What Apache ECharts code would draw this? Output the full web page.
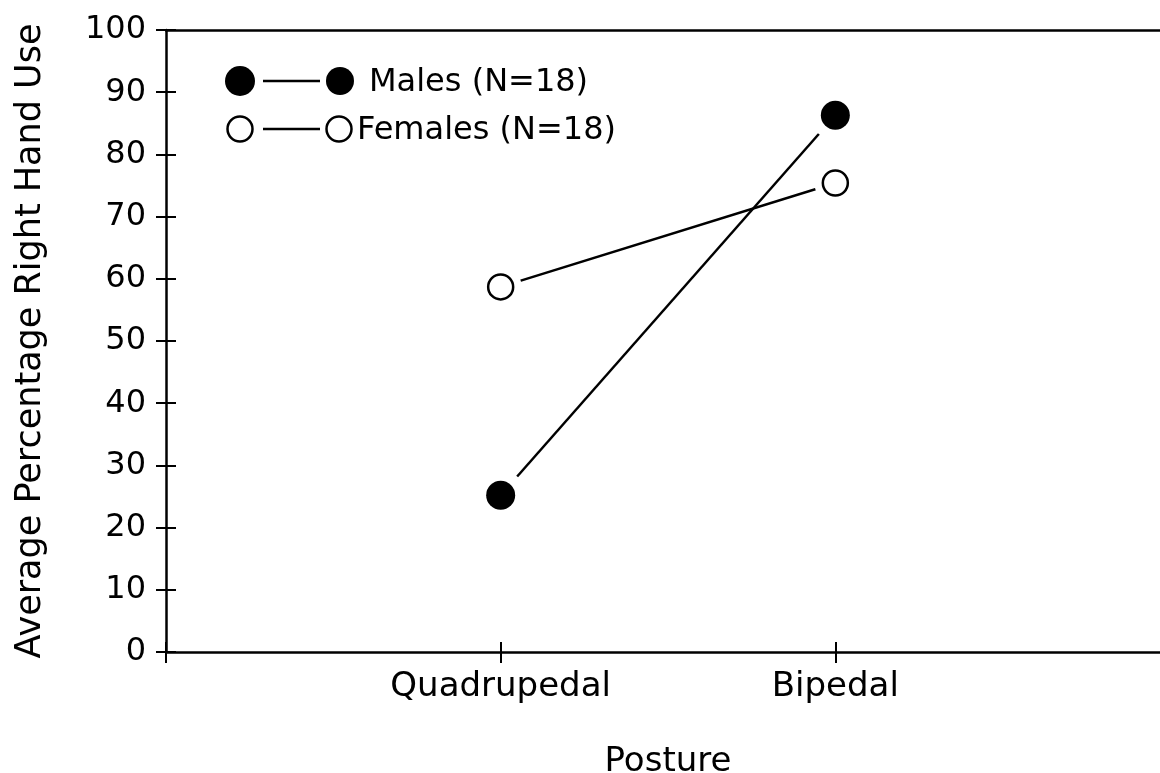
<!DOCTYPE html>
<html>
<head>
<meta charset="utf-8">
<script src="https://cdn.jsdelivr.net/npm/echarts@6/dist/echarts.min.js"></script>
<style>
  html, body { margin: 0; padding: 0; background: #fff; }
  #chart { width: 1160px; height: 773px; }
</style>
</head>
<body>
<div id="chart"></div>
<script>
// posture categories and average % right hand use per group
var postures = ['Quadrupedal', 'Bipedal'];
var males = [25.2, 86.3];
var females = [58.7, 75.4];
var yTicks = { min: 0, max: 100, step: 10 };

(function () {
  var font = 'DejaVu Sans';
  var ink = '#000';

  function pts(vals) {
    return vals.map(function (v, i) { return [i + 1, v]; });
  }

  var chart = echarts.init(document.getElementById('chart'), null, { renderer: 'canvas' });

  var axisLine = { show: true, lineStyle: { color: ink, width: 2.5 } };

  chart.setOption({
    animation: false,
    backgroundColor: '#fff',
    grid: { left: 166, right: -10, top: 30, bottom: 121, containLabel: false, outerBoundsMode: 'none' },
    xAxis: [
      {
        type: 'value', position: 'bottom', min: 0, max: 3, interval: 1,
        axisLine: axisLine,
        axisTick: { show: true, inside: false, length: 11, lineStyle: { color: ink, width: 2 } },
        axisLabel: {
          color: ink, fontFamily: font, fontSize: 34, margin: 18,
          formatter: function (v) { return postures[v - 1] || ''; }
        },
        splitLine: { show: false },
        name: 'Posture', nameLocation: 'middle', nameGap: 93,
        nameTextStyle: { color: ink, fontFamily: font, fontSize: 34 }
      },
      {
        // inner half of the crossing ticks
        type: 'value', position: 'bottom', min: 0, max: 3, interval: 1,
        axisLine: { show: false },
        axisTick: { show: true, inside: true, length: 10, lineStyle: { color: ink, width: 2 } },
        axisLabel: { show: false },
        splitLine: { show: false }
      },
      {
        // top frame line
        type: 'value', position: 'top', min: 0, max: 3,
        axisLine: axisLine,
        axisTick: { show: false },
        axisLabel: { show: false },
        splitLine: { show: false }
      }
    ],
    yAxis: [
      {
        type: 'value', position: 'left', min: yTicks.min, max: yTicks.max, interval: yTicks.step,
        axisLine: axisLine,
        axisTick: { show: true, inside: false, length: 10, lineStyle: { color: ink, width: 2 } },
        axisLabel: { color: ink, fontFamily: font, fontSize: 32, margin: 20 },
        splitLine: { show: false },
        name: 'Average Percentage Right Hand Use', nameLocation: 'middle', nameGap: 118,
        nameTextStyle: { color: ink, fontFamily: font, fontSize: 35 }
      },
      {
        // inner half of the crossing ticks
        type: 'value', position: 'left', offset: 0, min: yTicks.min, max: yTicks.max, interval: yTicks.step,
        axisLine: { show: false },
        axisTick: { show: true, inside: true, length: 10, lineStyle: { color: ink, width: 2 } },
        axisLabel: { show: false },
        splitLine: { show: false }
      }
    ],
    series: [
      // connecting lines
      {
        type: 'line', data: pts(males), showSymbol: false, z: 2,
        lineStyle: { color: ink, width: 2.5 }
      },
      {
        type: 'line', data: pts(females), showSymbol: false, z: 2,
        lineStyle: { color: ink, width: 2.5 }
      },
      // white halos so lines stop short of the markers
      {
        type: 'scatter', data: pts(males), symbol: 'circle', symbolSize: 50, z: 3,
        itemStyle: { color: '#fff', opacity: 1 }
      },
      {
        type: 'scatter', data: pts(females), symbol: 'circle', symbolSize: 42, z: 3,
        itemStyle: { color: '#fff', opacity: 1 }
      },
      // markers
      {
        type: 'scatter', name: 'Males (N=18)', data: pts(males), symbol: 'circle', symbolSize: 29, z: 4,
        itemStyle: { color: ink, opacity: 1 }
      },
      {
        type: 'scatter', name: 'Females (N=18)', data: pts(females), symbol: 'circle', symbolSize: 25, z: 4,
        itemStyle: { color: '#fff', borderColor: ink, borderWidth: 2.5, opacity: 1 }
      }
    ],
    graphic: [
      // legend: males
      { type: 'circle', shape: { cx: 240, cy: 81, r: 15 }, style: { fill: ink } },
      { type: 'line', shape: { x1: 263, y1: 81, x2: 320, y2: 81 }, style: { stroke: ink, lineWidth: 2.5 } },
      { type: 'circle', shape: { cx: 340, cy: 81, r: 14 }, style: { fill: ink } },
      { type: 'text', left: 369, top: 67, style: { text: 'Males (N=18)', fill: ink, font: '32px "DejaVu Sans"' } },
      // legend: females
      { type: 'circle', shape: { cx: 240, cy: 129, r: 12.5 }, style: { fill: '#fff', stroke: ink, lineWidth: 2.5 } },
      { type: 'line', shape: { x1: 263, y1: 129, x2: 320, y2: 129 }, style: { stroke: ink, lineWidth: 2.5 } },
      { type: 'circle', shape: { cx: 339, cy: 129, r: 12.5 }, style: { fill: '#fff', stroke: ink, lineWidth: 2.5 } },
      { type: 'text', left: 357, top: 115, style: { text: 'Females (N=18)', fill: ink, font: '32px "DejaVu Sans"' } }
    ]
  });
  window.addEventListener('resize', function () { chart.resize(); });
})();
</script>
</body>
</html>
